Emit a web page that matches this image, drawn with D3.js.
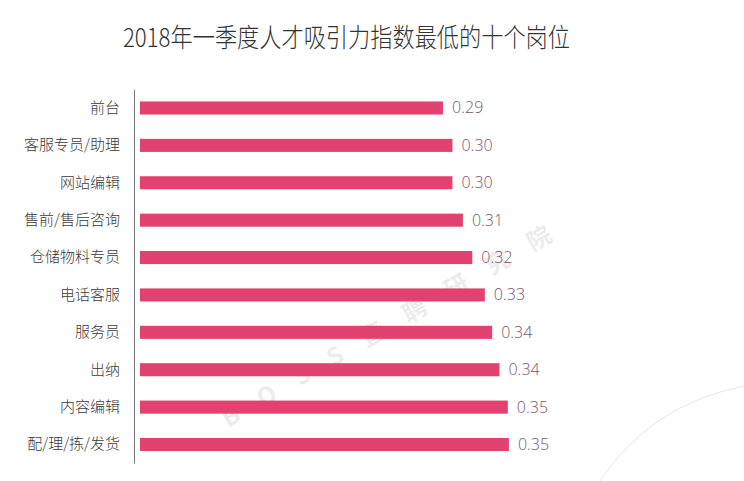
<!DOCTYPE html>
<html><head><meta charset="utf-8">
<script src="https://cdn.jsdelivr.net/npm/d3@7"></script>
<style>
html,body{margin:0;padding:0;background:#fff;}
svg{display:block;font-family:"Noto Sans CJK SC","Noto Sans",sans-serif;}
</style></head>
<body><svg id="c" width="744" height="481"></svg>
<script>
const title = "2018年一季度人才吸引力指数最低的十个岗位";
const categories = ["前台","客服专员/助理","网站编辑","售前/售后咨询","仓储物料专员","电话客服","服务员","出纳","内容编辑","配/理/拣/发货"];
const values = [0.290, 0.299, 0.299, 0.309, 0.318, 0.330, 0.337, 0.344, 0.352, 0.353];
const watermark = "BOSS直聘研究院";

const svg = d3.select("#c");
const x = d3.scaleLinear().domain([0, 0.4]).range([140, 558]);
const y = d3.scaleBand().domain(categories).range([89.3, 463.2]).paddingInner(0.65).paddingOuter(0.325);

// watermark
const wm = svg.append("g").attr("transform","translate(228,428) rotate(-30)");
wm.append("text").attr("x",0).attr("y",0)
  .attr("font-size",24).attr("font-weight","bold").attr("fill","#000").attr("opacity",0.07)
  .attr("letter-spacing",24).text(watermark);

// faint arc bottom-right
svg.append("path").attr("d","M600,481 Q650,405 744,386").attr("fill","none").attr("stroke","#e6e6e6").attr("stroke-width",1);

// title
svg.append("text").attr("x",123).attr("y",47).attr("font-size",26).attr("font-weight",300)
  .attr("fill","#333").attr("textLength",447).attr("lengthAdjust","spacingAndGlyphs").text(title);

// axis line
const yAxis = d3.axisLeft(y).tickSize(0).tickPadding(14);
const ga = svg.append("g").attr("transform","translate(134,0)").call(yAxis);
ga.select(".domain").attr("stroke","#777").attr("stroke-width",1);
ga.selectAll("text").attr("font-size",15).attr("fill","#3a3a3a").attr("font-weight",300)
  .attr("font-family","\"Noto Sans CJK SC\",sans-serif");

// bars
svg.selectAll("rect.bar").data(categories).join("rect").attr("class","bar")
  .attr("x", x(0)).attr("y", d => y(d))
  .attr("width", (d,i) => x(values[i]) - x(0)).attr("height", y.bandwidth())
  .attr("fill","#e2426f");

// value labels
const fmt = d3.format(".2f");
svg.selectAll("text.val").data(categories).join("text").attr("class","val")
  .attr("x", (d,i) => x(values[i]) + 9)
  .attr("y", d => y(d) + y.bandwidth()/2 + 5.5)
  .attr("font-size",16).attr("fill","#7a5470")
  .attr("font-family","\"Open Sans\",\"Noto Sans\",sans-serif").attr("font-weight",300)
  .text((d,i) => fmt(values[i]));
</script></body></html>
